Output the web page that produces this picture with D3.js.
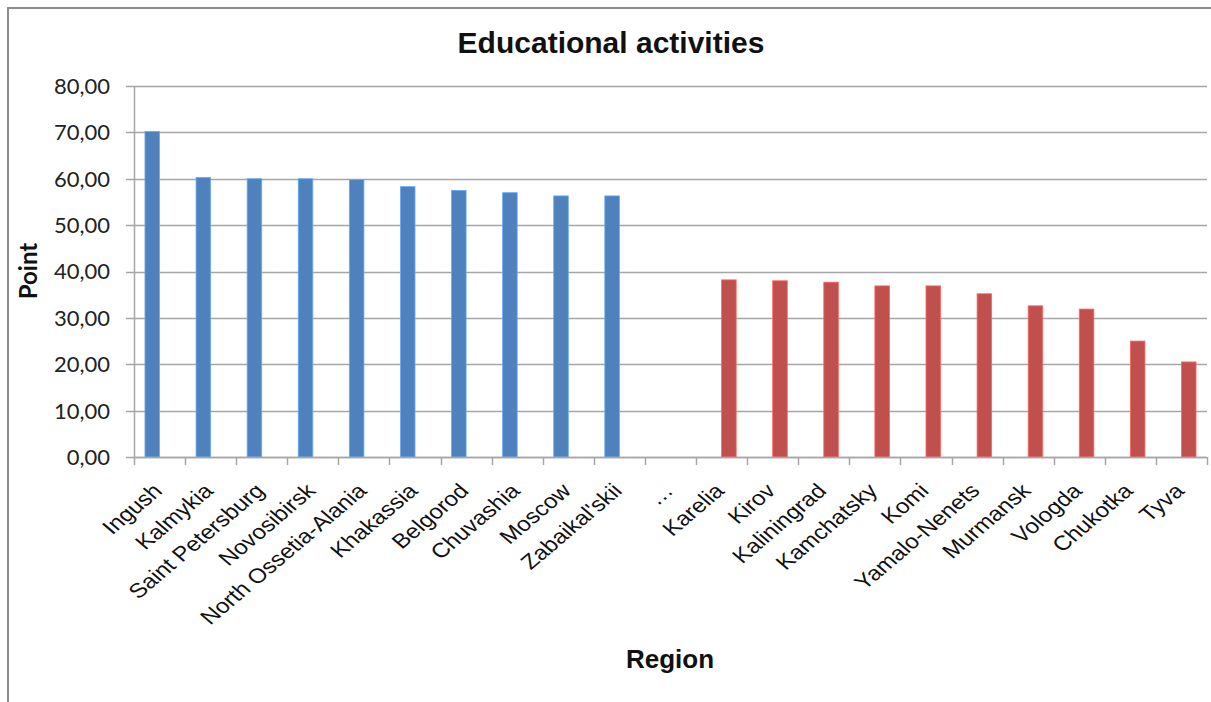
<!DOCTYPE html>
<html>
<head>
<meta charset="utf-8">
<script src="https://cdn.jsdelivr.net/npm/d3@7/dist/d3.min.js"></script>
<style>
  body { margin: 0; background: #fff; }
</style>
</head>
<body>
<div id="chart"></div>
<script>
// regions with highest and lowest points
var topRegions = ["Ingush", "Kalmykia", "Saint Petersburg", "Novosibirsk", "North Ossetia-Alania",
  "Khakassia", "Belgorod", "Chuvashia", "Moscow", "Zabaikal'skii"];
var topValues = [70.2, 60.3, 60.0, 60.0, 59.8, 58.3, 57.5, 57.0, 56.3, 56.3];

var gapLabel = "\u2026";

var bottomRegions = ["Karelia", "Kirov", "Kaliningrad", "Kamchatsky", "Komi",
  "Yamalo-Nenets", "Murmansk", "Vologda", "Chukotka", "Tyva"];
var bottomValues = [38.2, 38.0, 37.7, 36.9, 36.9, 35.2, 32.6, 31.9, 25.0, 20.5];

var yTicks = [0, 10, 20, 30, 40, 50, 60, 70, 80];

var width = 1211, height = 702;
var plotLeft = 134, plotRight = 1207, plotTop = 86, plotBottom = 457;

var categories = topRegions.concat([gapLabel], bottomRegions);

var series = [
  { key: "top", color: "#4f81bd",
    data: topRegions.map(function(r, i) { return { region: r, value: topValues[i] }; }) },
  { key: "bottom", color: "#c0504d",
    data: bottomRegions.map(function(r, i) { return { region: r, value: bottomValues[i] }; }) }
];

var svg = d3.select("#chart")
  .append("svg")
  .attr("width", width)
  .attr("height", height);

// chart border (cropped at right and bottom)
svg.append("rect")
  .attr("x", 8).attr("y", 8)
  .attr("width", width + 20).attr("height", height + 20)
  .attr("fill", "none")
  .attr("stroke", "#8c8c8c")
  .attr("stroke-width", 2);

var x = d3.scaleBand()
  .domain(categories)
  .range([plotLeft, plotRight])
  .padding(0);

var bw = x.bandwidth();
var xs = d3.scaleBand()
  .domain(series.map(function(s) { return s.key; }))
  .range([bw * 0.2143, bw * 0.7857]);

var y = d3.scaleLinear()
  .domain([0, 80])
  .range([plotBottom, plotTop]);

function fmt(v) { return d3.format(".2f")(v).replace(".", ","); }

// gridlines + y ticks
svg.append("g")
  .selectAll("line")
  .data(yTicks)
  .enter()
  .append("line")
  .attr("x1", plotLeft - 8)
  .attr("x2", plotRight)
  .attr("y1", function(d) { return Math.round(y(d)) + 0.5; })
  .attr("y2", function(d) { return Math.round(y(d)) + 0.5; })
  .attr("stroke", "#a6a6a6")
  .attr("stroke-width", 1.5);

svg.append("g")
  .selectAll("text")
  .data(yTicks)
  .enter()
  .append("text")
  .attr("x", 110)
  .attr("y", function(d) { return y(d); })
  .attr("dy", "0.36em")
  .attr("text-anchor", "end")
  .style("font-family", "Lato, 'Open Sans', sans-serif")
  .style("font-size", "22px")
  .attr("fill", "#222")
  .text(fmt);

// y axis line
svg.append("line")
  .attr("x1", plotLeft + 0.5).attr("x2", plotLeft + 0.5)
  .attr("y1", plotTop).attr("y2", plotBottom)
  .attr("stroke", "#a6a6a6")
  .attr("stroke-width", 1.5);

// bars
var groups = svg.append("g")
  .selectAll("g")
  .data(series)
  .enter()
  .append("g")
  .attr("fill", function(s) { return s.color; })
  .attr("stroke", function(s) { return d3.color(s.color).brighter(0.8); })
  .attr("stroke-width", 0.8);

groups.selectAll("rect")
  .data(function(s) { return s.data.map(function(d) { return { key: s.key, region: d.region, value: d.value }; }); })
  .enter()
  .append("rect")
  .attr("x", function(d) { return x(d.region) + xs(d.key); })
  .attr("width", xs.bandwidth())
  .attr("y", function(d) { return y(d.value); })
  .attr("height", function(d) { return y(0) - y(d.value); });

// x axis line and ticks at category borders
svg.append("line")
  .attr("x1", plotLeft).attr("x2", plotRight)
  .attr("y1", plotBottom + 0.5).attr("y2", plotBottom + 0.5)
  .attr("stroke", "#a6a6a6")
  .attr("stroke-width", 1.5);

var tickPos = categories.map(function(c) { return x(c); }).concat([plotRight]);
svg.append("g")
  .selectAll("line")
  .data(tickPos)
  .enter()
  .append("line")
  .attr("x1", function(d) { return Math.round(d) + 0.5; })
  .attr("x2", function(d) { return Math.round(d) + 0.5; })
  .attr("y1", plotBottom)
  .attr("y2", plotBottom + 8)
  .attr("stroke", "#a6a6a6")
  .attr("stroke-width", 1.5);

// rotated category labels (the original is slightly stretched sideways)
svg.append("g")
  .selectAll("text")
  .data(categories)
  .enter()
  .append("text")
  .attr("transform", function(d) {
    return "translate(" + (x(d) + bw / 2 - 2) + "," + (plotBottom + 30) + ") scale(1.18,1) rotate(-45)";
  })
  .attr("text-anchor", "end")
  .attr("dy", "0.35em")
  .style("font-family", "'Liberation Sans', Arial, sans-serif")
  .style("font-size", "20.5px")
  .attr("fill", "#111")
  .text(function(d) { return d; });

// titles
svg.append("text")
  .attr("x", 611).attr("y", 53)
  .attr("text-anchor", "middle")
  .style("font-family", "'Liberation Sans', Arial, sans-serif")
  .style("font-weight", "bold")
  .style("font-size", "30px")
  .attr("fill", "#111")
  .text("Educational activities");

svg.append("text")
  .attr("transform", "translate(37,271) rotate(-90)")
  .attr("text-anchor", "middle")
  .style("font-family", "Lato, 'Open Sans', sans-serif")
  .style("font-weight", "bold")
  .style("font-size", "24px")
  .attr("fill", "#111")
  .text("Point");

svg.append("text")
  .attr("x", 670).attr("y", 668)
  .attr("text-anchor", "middle")
  .style("font-family", "'Liberation Sans', Arial, sans-serif")
  .style("font-weight", "bold")
  .style("font-size", "26px")
  .attr("fill", "#111")
  .text("Region");
</script>
</body>
</html>
